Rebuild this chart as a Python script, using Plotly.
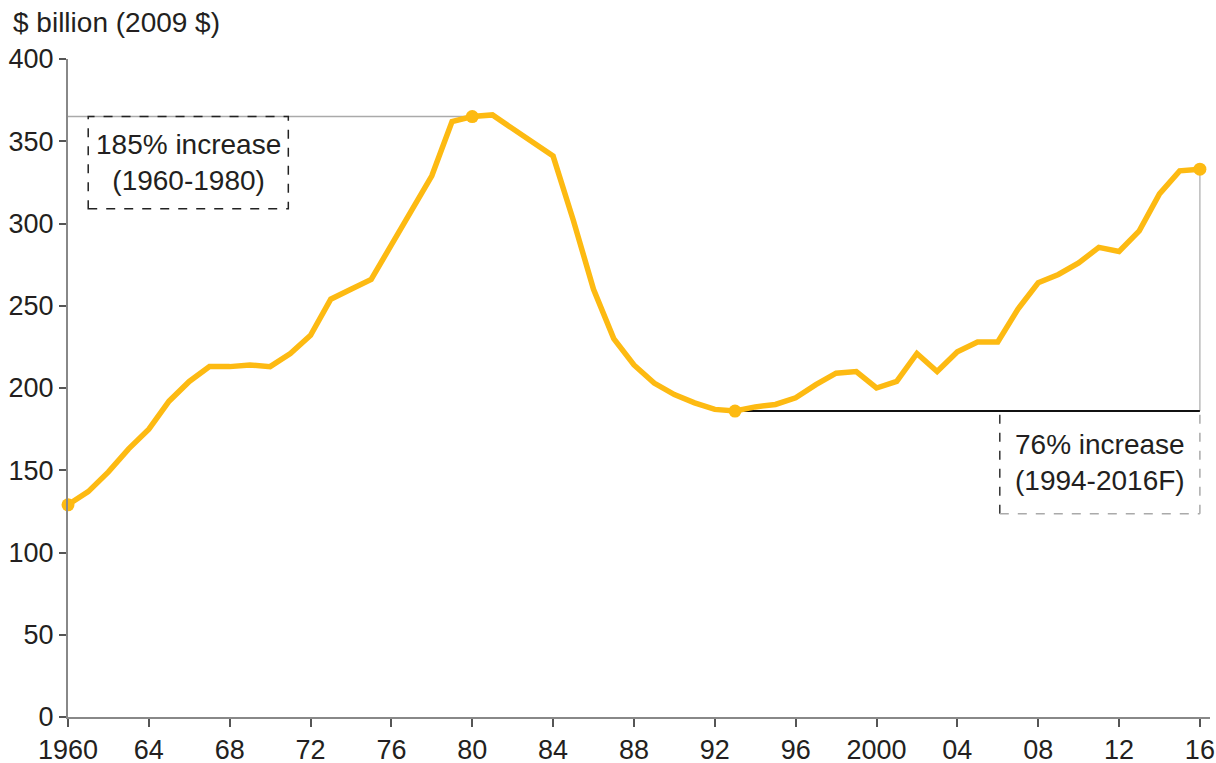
import plotly.graph_objects as go

years = list(range(1960, 2017))
values = [129, 137, 149, 163, 175, 192, 204, 213, 213, 214, 213, 221, 232, 254, 260, 266,
          287, 308, 329, 362, 365, 366, 358, 349, 341, 302, 260, 230, 214, 203, 196, 191,
          187, 186, 188.5, 190, 194, 202, 209, 210, 200, 204, 221, 210, 222, 228, 228, 248,
          264, 269, 276, 285.5, 283, 295.5, 318, 332, 333]
highlight_years = [1960, 1980, 1993, 2016]
tick_years = [1960, 1964, 1968, 1972, 1976, 1980, 1984, 1988, 1992, 1996, 2000, 2004, 2008, 2012, 2016]
tick_labels = ["1960", "64", "68", "72", "76", "80", "84", "88", "92", "96", "2000", "04", "08", "12", "16"]
y_ticks = [0, 50, 100, 150, 200, 250, 300, 350, 400]
note1 = "185% increase<br>(1960-1980)"
note2 = "76% increase<br>(1994-2016F)"
y_title = "$ billion (2009 $)"

val = dict(zip(years, values))
peak = val[1980]
trough = val[1993]
last = val[2016]

FONT = "Liberation Sans, Arial, Helvetica, sans-serif"
TXT = "#231f20"
GOLD = "#FDBA12"

fig = go.Figure()
fig.add_trace(go.Scatter(x=years, y=values, mode="lines",
                         line=dict(color=GOLD, width=5.5), hoverinfo="skip", showlegend=False))
fig.add_trace(go.Scatter(x=highlight_years, y=[val[y] for y in highlight_years], mode="markers",
                         marker=dict(color=GOLD, size=13), hoverinfo="skip", showlegend=False,
                         cliponaxis=False))

shapes = [
    dict(type="line", xref="x", yref="y", x0=1960, x1=1980, y0=peak, y1=peak,
         line=dict(color="#aaaaaa", width=1.5), layer="below"),
    dict(type="line", xref="x", yref="y", x0=2016, x1=2016, y0=trough, y1=last,
         line=dict(color="#bbbbbb", width=1.5), layer="below"),
    # box 1
    dict(type="rect", xref="x", yref="y", x0=1961.0, x1=1970.9, y0=309, y1=peak,
         line=dict(color="#222222", width=1.5, dash="dash"), fillcolor="rgba(0,0,0,0)"),
    # box 2
    dict(type="line", xref="x", yref="y", x0=2006.1, x1=2006.1, y0=123.5, y1=trough,
         line=dict(color="#333333", width=1.5, dash="dash")),
    dict(type="line", xref="x", yref="y", x0=2006.1, x1=2016, y0=123.5, y1=123.5,
         line=dict(color="#aaaaaa", width=1.5, dash="dash")),
    dict(type="line", xref="x", yref="y", x0=2016, x1=2016, y0=123.5, y1=trough,
         line=dict(color="#aaaaaa", width=1.5, dash="dash")),
    dict(type="line", xref="x", yref="y", x0=1993, x1=2016, y0=trough, y1=trough,
         line=dict(color="#111111", width=2), layer="below"),
]

annotations = [
    dict(text=y_title, xref="paper", yref="paper", x=-0.05, y=1.056, xanchor="left",
         yanchor="middle", showarrow=False, font=dict(size=28, color=TXT, family=FONT)),
    dict(text=note1, xref="x", yref="y", x=1965.95, y=(309 + peak) / 2, xanchor="center",
         yanchor="middle", showarrow=False, align="center",
         font=dict(size=28, color=TXT, family=FONT)),
    dict(text=note2, xref="x", yref="y", x=2011.05, y=(123.5 + trough) / 2, xanchor="center",
         yanchor="middle", showarrow=False, align="center",
         font=dict(size=28, color=TXT, family=FONT)),
]

fig.update_layout(
    width=1216, height=763,
    margin=dict(l=68, r=6, t=59, b=46, autoexpand=False),
    paper_bgcolor="white", plot_bgcolor="white",
    font=dict(family=FONT, size=27, color=TXT),
    shapes=shapes, annotations=annotations,
    xaxis=dict(range=[1960, 2016.5], tickvals=tick_years, ticktext=tick_labels,
               showgrid=False, zeroline=False, showline=True, linecolor="#888888", linewidth=2,
               ticks="outside", ticklen=8, tickcolor="#555555", tickwidth=1.5, automargin=False,
               tickfont=dict(size=27, color=TXT, family=FONT)),
    yaxis=dict(range=[0, 400], tickvals=y_ticks, showgrid=False, zeroline=False,
               showline=True, linecolor="#888888", linewidth=2, automargin=False,
               ticks="outside", ticklen=7, tickcolor="#555555", tickwidth=1.5,
               tickfont=dict(size=27, color=TXT, family=FONT)),
)

fig.write_html("out.html")
